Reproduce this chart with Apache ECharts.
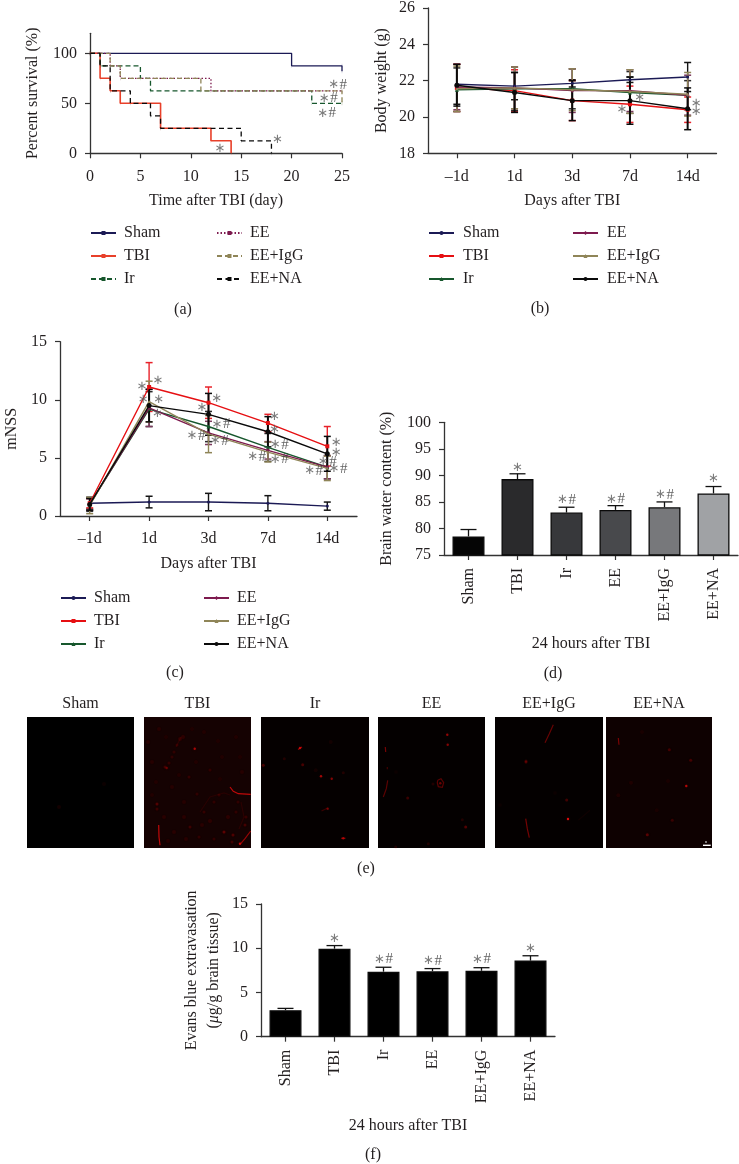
<!DOCTYPE html>
<html>
<head>
<meta charset="utf-8">
<script src="https://cdn.jsdelivr.net/npm/echarts@6/dist/echarts.min.js"></script>
<style>html,body{margin:0;padding:0;background:#fff}#c{width:739px;height:1164px}</style>
</head>
<body>
<div id="c"></div>
<script>
// ---------- shared ----------
const groupNames = ['Sham','TBI','Ir','EE','EE+IgG','EE+NA'];
const dayLabels = ['\u20131d','1d','3d','7d','14d'];

// ---------- (a) survival: [day, percent] steps ----------
const survSham = [[0,100],[20,87.5],[25,87.5],[25,82]];
const survTBI = [[0,100],[1,75],[2,62.5],[3,50],[7,25],[12,12.5],[14,0]];
const survIr = [[0,100],[1,87.5],[5,75],[6,62.5],[22,50],[25,50]];
const survEE = [[0,100],[2,87.5],[3,75],[12,62.5],[25,62.5]];
const survIgG = [[0,100],[2,87.5],[3,75],[11,62.5],[25,62.5],[25,50]];
const survNA = [[0,100],[1,87.5],[2,62.5],[4,50],[6,37.5],[7,25],[15,12.5],[18,0]];
const survNotes = [[24.57,68.6,'\u2217#'],[23.64,55,'\u2217#'],[23.48,40,'\u2217#'],[18.6,13.3,'\u2217'],[12.9,5,'\u2217']];

// ---------- (b) body weight ----------
const bwSham = [21.8,21.7,21.85,22.05,22.2];
const bwTBI = [21.6,21.45,20.9,20.7,20.4];
const bwIr = [21.5,21.55,21.55,21.35,21.2];
const bwEE = [21.65,21.6,21.45,21.45,21.2];
const bwIgG = [21.55,21.6,21.5,21.4,21.25];
const bwNA = [21.75,21.35,20.9,20.9,20.45];
const bwErrSham = [1.1,0.75,0.2,0.15,0.8];
const bwErrTBI = [1.3,1.15,1.1,1.0,0.7];
const bwErrIr = [1.2,1.2,1.1,1.15,0.8];
const bwErrEE = [1.25,1.15,1.2,1.15,1.1];
const bwErrIgG = [1.25,1.15,1.15,1.2,1.2];
const bwErrNA = [1.15,1.1,1.1,1.3,1.15];
const bwNotes = [[3.17,21.05,'\u2217'],[2.86,20.43,'\u2217'],[4.15,20.73,'\u2217'],[4.15,20.27,'\u2217']];

// ---------- (c) mNSS ----------
const nsSham = [1.1,1.2,1.2,1.1,0.85];
const nsTBI = [1.1,11.1,9.75,8.0,6.0];
const nsIr = [1.0,9.2,7.7,5.9,4.2];
const nsEE = [1.0,9.3,7.15,5.65,4.2];
const nsIgG = [0.9,9.85,7.05,5.5,4.1];
const nsNA = [1.0,9.5,8.75,7.25,5.35];
const nsErrSham = [0.5,0.5,0.75,0.65,0.35];
const nsErrTBI = [0.4,2.1,1.35,0.75,1.7];
const nsErrIr = [0.6,1.5,1.3,1.2,1.0];
const nsErrEE = [0.5,1.6,1.0,0.75,1.0];
const nsErrIgG = [0.7,1.75,1.6,0.85,1.05];
const nsErrNA = [0.5,1.4,1.8,1.3,1.5];
const nsNotes = [[1.15,11.64,'\u2217'],[0.88,11.13,'\u2217'],[0.90,9.98,'\u2217'],[1.16,9.98,'\u2217'],[1.14,8.84,'\u2217'],
  [2.14,10.07,'\u2217'],[1.89,9.35,'\u2217'],[2.21,7.9,'\u2217#'],[1.79,6.88,'\u2217#'],[2.18,6.48,'\u2217#'],
  [3.11,8.55,'\u2217'],[3.11,7.4,'\u2217'],[3.19,6.11,'\u2217#'],[2.81,5.1,'\u2217#'],[3.19,4.88,'\u2217#'],
  [4.15,6.31,'\u2217'],[4.15,5.45,'\u2217'],[4.0,4.67,'\u2217#'],[4.18,4.04,'\u2217#'],[3.77,3.9,'\u2217#']];

// ---------- (d) brain water ----------
const waterMean = [78.5,89.3,83,83.5,84,86.6];
const waterTop = [79.8,90.3,84,84.3,85,87.9];
const waterNotes = [null,[1,91.5,'\u2217'],[2,85.4,'\u2217#'],[3,85.5,'\u2217#'],[4,86.3,'\u2217#'],[5,89.3,'\u2217']];

// ---------- (f) evans blue ----------
const evansMean = [3.0,9.95,7.35,7.4,7.45,8.6];
const evansTop = [3.2,10.3,7.85,7.7,7.8,9.15];
const evansNotes = [null,[1,11.1,'\u2217'],[2,8.75,'\u2217#'],[3,8.56,'\u2217#'],[4,8.75,'\u2217#'],[5,10.0,'\u2217']];

// ---------- (e) micrographs: specks [x, y, intensity], streaks [intensity, [x,y]...] ----------
const specksSham = [[32,90,0.16],[77,67,0.12]];
const streaksSham = [];
const specksTBI = [[50.7,31.7,0.75],[22.7,51,0.5],[21,50,0.3],[33,28,0.22],[36,22,0.2],[39,20,0.2],[30,35,0.22],[28,40,0.22],[25,46,0.24],
  [13,87,0.4],[13,92,0.28],[45,60,0.25],[66,53,0.22],[53,77,0.22],[46,110,0.3],[80,115,0.45],[89,118,0.38],[101,108,0.33],[102,100,0.26],
  [96,126.7,0.85],[60,95,0.25],[70,85,0.22],[75,78,0.22],[92,95,0.22],[84,100,0.2],[40,100,0.18],[30,115,0.18],[8,45,0.16],[4,25,0.18],
  [60,15,0.14],[15,12,0.16],[28,70,0.16],[12,65,0.14],[55,120,0.22],[70,122,0.22],[88,125,0.3],[94,85,0.22],[40,85,0.16],[20,100,0.18],[98,55,0.16],[78,40,0.13],[92,20,0.13],
  [22,20,0.12],[48,12,0.12],[74,24,0.12],[52,45,0.13],[8,78,0.14],[35,58,0.14],[76,62,0.12],[58,108,0.18],[24,124,0.16],[66,104,0.2],[96,40,0.12],[42,122,0.18]];
const streaksTBI = [[0.85,[86,70],[89.3,74.3],[94.3,76.7],[106.7,77.3]],[0.85,[14.7,108],[15,120],[16,128.3]],[0.7,[96.7,126.7],[101,121.7],[106.7,114]],
  [0.18,[56,95],[66,80],[80,76],[86,78]],[0.2,[97,85],[100,100],[95,112]],[0.2,[32,30],[37,20]]];
const specksIr = [[39,31,0.8],[2.3,48.3,0.4],[41.7,47.7,0.4],[23.3,41.7,0.22],[60,59.3,0.75],[70.7,61.7,0.65],[82.3,55.7,0.22],[66.7,91.7,0.55],[82.3,121.3,0.7],[69.7,25,0.14],[54.7,53.3,0.14]];
const streaksIr = [[0.7,[37,32.5],[41,30]],[0.35,[60.5,94],[66.7,91]],[0.6,[80,121.3],[84.5,121.3]]];
const specksEE = [[69.3,17.7,0.7],[69.7,27.7,0.65],[62.3,66.3,0.55],[87.7,110,0.45],[84.3,102.7,0.22],[29.7,81,0.35],[17.7,130,0.22],[50.3,126.7,0.22],[55,67,0.22],[18,55,0.1]];
const streaksEE = [[0.5,[59.7,63.3],[63,61.7],[65.7,65.7],[64.3,70.3],[60.3,69.7],[59.3,65.7],[59.7,63.3]],[0.6,[7.3,30],[7.7,35]],[0.4,[9.3,50],[9.3,52.3]],[0.5,[9.7,63.3],[8.3,71.7],[5.3,80]]];
const specksIgG = [[31,45,0.4],[31,44,0.3],[71.7,83,0.38],[73,102,0.95],[5,88,0.1],[60,76,0.1]];
const streaksIgG = [[0.55,[58.3,7.7],[54.3,16.7],[50,25.7]],[0.6,[30.7,101.7],[32.3,111.7],[34.3,120.7]],[0.12,[95,93.3],[83.3,103.3]]];
const specksNA = [[63.3,32.7,0.35],[84.7,43.3,0.35],[80.3,69,0.8],[66.3,103.3,0.3],[41.3,117.7,0.45],[25,65.7,0.15],[12.3,78.3,0.15],[50.7,93.3,0.12],[36,15,0.12],[62,64,0.12]];
const streaksNA = [[0.6,[12.3,21],[13,27.7]]];
const scaleBar = [[97,128.3],[104.7,128.3]];
const scaleBarLabel = [[100,125,1]];

// ---------- style ----------
const INK = '#231f20', SERIF = '"Liberation Serif", serif';
const palette = {Sham:'#1b1a55',TBI:'#e60f12',Ir:'#17572d',EE:'#7d1a4e',IgG:'#8f8558',NA:'#0a0a0a'};
const font = {fontFamily:SERIF, color:INK};

const grid=[], xAxis=[], yAxis=[], series=[], legend=[], graphic=[];

function axisBase(extra){
  return Object.assign({
    axisLine:{show:true,onZero:false,lineStyle:{color:'#333',width:1.3}},
    axisTick:{show:true,length:5,lineStyle:{color:'#333',width:1.2}},
    splitLine:{show:false},
    axisLabel:Object.assign({fontSize:16,margin:13},font),
    nameTextStyle:Object.assign({fontSize:16},font),
    nameLocation:'middle'
  },extra);
}
const xLabel = Object.assign({fontSize:16,margin:15},font);
function addGrid(box){ grid.push(Object.assign({containLabel:false,show:false},box)); return grid.length-1; }
function caption(text,x,y){
  graphic.push({type:'text',x:x,y:y,silent:true,style:{text:text,fontFamily:SERIF,fontSize:16,fill:INK,textAlign:'center',textVerticalAlign:'middle'}});
}
function notesSeries(g,xIdx,yIdx,notes){
  series.push({type:'scatter',xAxisIndex:xIdx,yAxisIndex:yIdx,silent:true,symbolSize:1,z:9,
    itemStyle:{color:'rgba(0,0,0,0)'},
    label:{show:true,position:'inside',
      rich:{a:{fontFamily:'"DejaVu Sans"',fontSize:13,color:'#5a5a5a'},h:{fontFamily:SERIF,fontSize:15,color:'#3a3a3a',padding:[0,0,0,0.5]}},
      formatter:p=>'{a|\u2217}'+(p.value[2].length>1?'{h|#}':'')},
    data:notes.filter(Boolean)});
}
function legends(prefix,col1,col2,top,gap,textGap){
  const n=groupNames.map(g=>prefix+':'+g);
  const common={orient:'vertical',top:top,itemWidth:25,itemHeight:5,itemGap:gap,selectedMode:false,padding:0,
    textStyle:Object.assign({fontSize:16,padding:[0,0,0,textGap-5]},font),formatter:s=>s.split(':')[1]};
  legend.push(Object.assign({},common,{left:col1,data:n.slice(0,3)}));
  legend.push(Object.assign({},common,{left:col2,data:n.slice(3,6)}));
}

// ---------- (a) ----------
const gA=addGrid({left:90,top:33.3,width:252,height:120});
const xA=xAxis.push(axisBase({gridIndex:gA,type:'value',min:0,max:25,interval:5,axisLabel:xLabel,name:'Time after TBI (day)',nameGap:39}))-1;
const yA=yAxis.push(axisBase({gridIndex:gA,type:'value',min:0,max:120,
  axisTick:{show:true,length:5,customValues:[0,50,100],lineStyle:{color:'#333',width:1.2}},
  axisLabel:Object.assign({fontSize:16,margin:13,customValues:[0,50,100]},font),
  name:'Percent survival (%)',nameGap:49}))-1;
const survSeries=[['Sham',survSham,palette.Sham,'solid',1.3],['TBI',survTBI,'#e8402a','solid',1.6],['Ir',survIr,palette.Ir,[5,3],1.3],
  ['EE',survEE,palette.EE,[1.5,2],1.3],['EE+IgG',survIgG,palette.IgG,[5,3],1.3],['EE+NA',survNA,palette.NA,[5,3.5],1.3]];
survSeries.forEach(s=>{
  series.push({type:'line',name:'a:'+s[0],xAxisIndex:xA,yAxisIndex:yA,step:'end',data:s[1],silent:true,
    symbol:'path://M0 0H1V8H0Z',symbolKeepAspect:true,symbolSize:[1,4],showSymbol:true,clip:false,
    lineStyle:{color:s[2],type:s[3],width:s[4]},itemStyle:{color:s[2]}});
});
notesSeries(gA,xA,yA,survNotes);
legends('a',90,216,225,7,8);

// ---------- line + error panels ----------
function linePanel(key,box,yCfg,yName,yNameGap,xNameGap,vals,errs,notes,syms){
  const g=addGrid(box);
  const xC=xAxis.push(axisBase({gridIndex:g,type:'category',data:dayLabels,boundaryGap:true,axisLabel:xLabel,
    axisTick:{show:true,alignWithLabel:true,length:5,lineStyle:{color:'#333',width:1.2}},
    name:'Days after TBI',nameGap:xNameGap}))-1;
  const xV=xAxis.push({gridIndex:g,type:'value',min:-0.5,max:4.5,show:false})-1;
  const y=yAxis.push(axisBase(Object.assign({gridIndex:g,type:'value',name:yName,nameGap:yNameGap},yCfg)))-1;
  const keys=['Sham','TBI','Ir','EE','IgG','NA'];
  keys.forEach((k,i)=>{
    const capColor={Sham:'#141414',TBI:'#e8222a',Ir:'#2b2b2b',EE:'#7d3a5e',IgG:'#8f8558',NA:'#0a0a0a'}[k];
    series.push({type:'custom',xAxisIndex:xC,yAxisIndex:y,silent:true,z:2+i*0.1,clip:false,
      data:vals[i].map((v,j)=>[j,v-errs[i][j],v+errs[i][j]]),
      renderItem:(p,api)=>{
        const lo=api.coord([api.value(0),api.value(1)]),hi=api.coord([api.value(0),api.value(2)]);
        const st={stroke:capColor,lineWidth:k==='NA'?2:1.4,fill:'none'};
        const cap={stroke:capColor,lineWidth:1.5,fill:'none'};
        return {type:'group',children:[
          {type:'line',shape:{x1:hi[0],y1:hi[1],x2:lo[0],y2:lo[1]},style:st},
          {type:'line',shape:{x1:hi[0]-3.5,y1:hi[1],x2:hi[0]+3.5,y2:hi[1]},style:cap},
          {type:'line',shape:{x1:lo[0]-3.5,y1:lo[1],x2:lo[0]+3.5,y2:lo[1]},style:cap}]};
      }});
  });
  keys.forEach((k,i)=>{
    series.push({type:'line',name:key+':'+groupNames[i],xAxisIndex:xC,yAxisIndex:y,data:vals[i],silent:true,z:4+i*0.1,
      symbol:syms[i][0],symbolSize:syms[i][1],showSymbol:true,
      lineStyle:{color:palette[k],width:1.4},itemStyle:{color:palette[k]}});
  });
  notesSeries(g,xV,y,notes);
}
const lineSymbols=[['circle',3],['rect',4],['triangle',4],['diamond',4],['triangle',3],['circle',5]];
linePanel('b',{left:428,top:6.7,width:288.5,height:146.6},{min:18,max:26,interval:2},'Body weight (g)',38,39,
  [bwSham,bwTBI,bwIr,bwEE,bwIgG,bwNA],[bwErrSham,bwErrTBI,bwErrIr,bwErrEE,bwErrIgG,bwErrNA],bwNotes,lineSymbols);
legends('b',428,572,225,7,9);
linePanel('c',{left:60,top:341.7,width:297,height:174.3},{min:0,max:15,interval:5},'mNSS',40,40,
  [nsSham,nsTBI,nsIr,nsEE,nsIgG,nsNA],[nsErrSham,nsErrTBI,nsErrIr,nsErrEE,nsErrIgG,nsErrNA],nsNotes,lineSymbols);
legends('c',60,203,590,7,8);

// ---------- bar panels ----------
function barPanel(box,yCfg,yName,yNameGap,xNameGap,mean,top,notes,colors){
  const g=addGrid(box);
  const x=xAxis.push(axisBase({gridIndex:g,type:'category',data:groupNames,boundaryGap:true,
    axisTick:{show:true,alignWithLabel:true,length:5,lineStyle:{color:'#333',width:1.2}},
    axisLabel:Object.assign({fontSize:16,margin:13,rotate:90,verticalAlign:'middle'},font),
    name:'24 hours after TBI',nameGap:xNameGap}))-1;
  const y=yAxis.push(axisBase(Object.assign({gridIndex:g,type:'value',name:yName,nameGap:yNameGap},yCfg)))-1;
  series.push({type:'custom',xAxisIndex:x,yAxisIndex:y,silent:true,z:1,
    data:mean.map((m,i)=>[i,m,top[i]]),
    renderItem:(p,api)=>{
      const a=api.coord([api.value(0),api.value(1)]),b=api.coord([api.value(0),api.value(2)]);
      const st={stroke:'#111',lineWidth:1.3,fill:'none'};
      return {type:'group',children:[
        {type:'line',shape:{x1:a[0],y1:a[1],x2:b[0],y2:b[1]},style:st},
        {type:'line',shape:{x1:b[0]-8,y1:b[1],x2:b[0]+8,y2:b[1]},style:st}]};
    }});
  series.push({type:'bar',xAxisIndex:x,yAxisIndex:y,silent:true,z:2,barWidth:32,
    data:mean.map((m,i)=>({value:m,itemStyle:{color:colors[i],borderColor:'#0a0a0a',borderWidth:1.3}}))});
  notesSeries(g,x,y,notes);
}
barPanel({left:444,top:422.3,width:294,height:132.7},{min:75,max:100,interval:5},'Brain water content (%)',49,81,
  waterMean,waterTop,waterNotes,['#050505','#2a2a2c','#37383b','#48494c','#77787b','#a0a2a5']);
barPanel({left:261,top:904,width:294,height:132.7},
  {min:0,max:15,interval:5,nameTextStyle:Object.assign({fontSize:16,lineHeight:22,rich:{i:{fontStyle:'italic',fontSize:16,fontFamily:SERIF,color:INK}}},font)},
  'Evans blue extravasation\n({i|\u03bc}g/g brain tissue)',36,81,
  evansMean,evansTop,evansNotes,['#000','#000','#000','#000','#000','#000']);

// ---------- (e) micrograph panels ----------
function redFor(v){ const a=Math.pow(v,1.4); return 'rgba(235,'+Math.round(14*a)+','+Math.round(14*a)+','+a.toFixed(3)+')'; }
function imagePanel(title,box,bg,specks,streaks){
  const g=grid.push({left:box[0],top:717,width:box[1]-box[0],height:131,show:true,backgroundColor:bg,borderWidth:0})-1;
  const x=xAxis.push({gridIndex:g,type:'value',min:0,max:box[1]-box[0],position:'top',name:title,nameLocation:'middle',nameGap:5,
    nameTextStyle:Object.assign({fontSize:16},font),axisLine:{show:false},axisTick:{show:false},axisLabel:{show:false},splitLine:{show:false}})-1;
  const y=yAxis.push({gridIndex:g,type:'value',min:0,max:131,inverse:true,axisLine:{show:false},axisTick:{show:false},axisLabel:{show:false},splitLine:{show:false}})-1;
  series.push({type:'scatter',xAxisIndex:x,yAxisIndex:y,silent:true,symbol:'circle',data:specks,
    symbolSize:d=>d[2]>0.45?2.4:(d[2]>0.2?3:4),
    itemStyle:{color:p=>redFor(p.value[2]),opacity:1,shadowBlur:3,shadowColor:'rgba(160,0,0,0.3)'}});
  if(streaks.length){
    series.push({type:'lines',coordinateSystem:'cartesian2d',xAxisIndex:x,yAxisIndex:y,polyline:true,silent:true,
      data:streaks.map(s=>({coords:s.slice(1),lineStyle:{color:redFor(s[0]),width:1.2,opacity:1}})),lineStyle:{curveness:0}});
  }
  return [x,y];
}
imagePanel('Sham',[27,134],'#000000',specksSham,streaksSham);
imagePanel('TBI',[144,251],'#150202',specksTBI,streaksTBI);
imagePanel('Ir',[261,369],'#050000',specksIr,streaksIr);
imagePanel('EE',[378,485],'#040000',specksEE,streaksEE);
imagePanel('EE+IgG',[495,603],'#040000',specksIgG,streaksIgG);
const naAxes=imagePanel('EE+NA',[606,712],'#0e0101',specksNA,streaksNA);
series.push({type:'lines',coordinateSystem:'cartesian2d',xAxisIndex:naAxes[0],yAxisIndex:naAxes[1],polyline:true,silent:true,z:5,
  data:[{coords:scaleBar,lineStyle:{color:'#ffffff',width:1.4,opacity:1}}]});
series.push({type:'scatter',xAxisIndex:naAxes[0],yAxisIndex:naAxes[1],silent:true,z:5,symbolSize:1.8,itemStyle:{color:'#ddd'},data:scaleBarLabel});

caption('(a)',183,310); caption('(b)',540,309); caption('(c)',175,673);
caption('(d)',553,674); caption('(e)',366,869); caption('(f)',373,1155);

const chart=echarts.init(document.getElementById('c'),null,{renderer:'canvas'});
chart.setOption({animation:false,backgroundColor:'#fff',tooltip:{show:false},grid,xAxis,yAxis,series,legend,graphic});
</script>
</body>
</html>
